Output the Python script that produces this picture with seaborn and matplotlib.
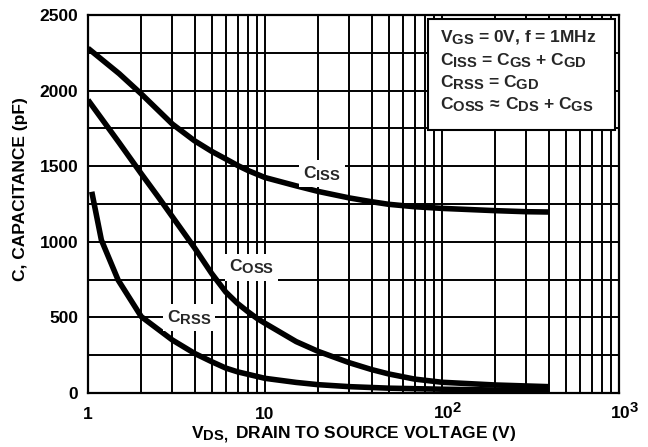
import numpy as np
import pandas as pd
import matplotlib
matplotlib.use("Agg")
import matplotlib.pyplot as plt
import matplotlib._mathtext as _mt
import matplotlib.transforms as mtransforms
import seaborn as sns
from matplotlib.patches import Rectangle
from matplotlib.ticker import FixedLocator, NullLocator

# Data
ciss_v = [1, 1.5, 2, 3, 4, 5, 6, 7, 8, 10, 15, 20, 30, 40, 50, 70, 100, 200, 300, 400]
ciss_c = [2280, 2112, 1978, 1778, 1668, 1598, 1548, 1505, 1472, 1425, 1370, 1333, 1290,
          1265, 1248, 1232, 1221, 1206, 1199, 1197]

coss_v = [1, 1.5, 2, 2.5, 3, 4, 5, 6, 7, 8, 9, 10, 15, 20, 30, 40, 50, 70, 100, 200, 400]
coss_c = [1938, 1655, 1450, 1295, 1165, 960, 790, 668, 592, 538, 494, 461, 340, 275,
          200, 155, 126, 92, 71, 53, 42]

crss_v = [1.05, 1.19, 1.48, 2, 3, 4, 5, 6, 7, 10, 15, 20, 30, 50, 100, 200, 400]
crss_c = [1331, 1012, 747, 505, 350, 262, 207, 165, 140, 97, 70, 55, 42, 32, 25, 20, 18]

y_ticks = [0, 500, 1000, 1500, 2000, 2500]
x_ticks = [1, 10, 100, 1000]
x_ticklabels = ["1", "10", r"$10^{2}$", r"$10^{3}$"]

_mt.SHRINK_FACTOR = 0.85

sns.set_theme(style="white")
plt.rcParams["font.family"] = ["Liberation Sans", "DejaVu Sans"]
plt.rcParams["font.weight"] = "bold"
plt.rcParams["mathtext.fontset"] = "custom"
plt.rcParams["mathtext.rm"] = "Liberation Sans:bold"
plt.rcParams["mathtext.it"] = "Liberation Sans:bold"
plt.rcParams["mathtext.bf"] = "Liberation Sans:bold"
plt.rcParams["mathtext.sf"] = "Liberation Sans:bold"

W, H = 648, 447
L, R, T, B = 88, 619, 15, 393
fig = plt.figure(figsize=(W/100, H/100), dpi=100)
ax = fig.add_axes([L/W, 1 - B/H, (R-L)/W, (B-T)/H])

for xs, ys in [(ciss_v, ciss_c), (coss_v, coss_c), (crss_v, crss_c)]:
    df = pd.DataFrame({"V": xs, "C": ys})
    sns.lineplot(data=df, x="V", y="C", ax=ax, color="black", linewidth=4.0,
                 solid_capstyle="butt", solid_joinstyle="round", zorder=3)

ax.set_xscale("log")
ax.set_xlim(1, 1000)
ax.set_ylim(0, 2500)

# grid
for d in [1, 10, 100]:
    for k in range(1, 10):
        if d * k > 1:
            ax.axvline(d*k, color="black", lw=1.4, zorder=1)
for yv in np.arange(250, 2500, 250):
    ax.axhline(yv, color="black", lw=1.4, zorder=1)

ax.xaxis.set_major_locator(FixedLocator(x_ticks))
ax.xaxis.set_minor_locator(NullLocator())
ax.set_xticklabels(x_ticklabels)
ax.set_yticks(y_ticks)
ax.tick_params(axis="both", length=0, labelsize=12.5, colors="black")
ax.tick_params(axis="x", pad=19)
ax.tick_params(axis="y", pad=7)
for i, lab in enumerate(ax.get_xticklabels()):
    lab.set_fontweight("bold")
    lab.set_va("baseline")
    if i >= 2:
        lab.set_transform(lab.get_transform() +
                          mtransforms.ScaledTranslation(4/72, 0, fig.dpi_scale_trans))
for lab in ax.get_yticklabels():
    lab.set_fontweight("bold")

for s in ax.spines.values():
    s.set_color("black")
    s.set_linewidth(1.6)
    s.set_zorder(6)

ax.set_xlabel(r"$V_{DS,}$ DRAIN TO SOURCE VOLTAGE (V)", fontsize=12.5, fontweight="bold",
              color="black", labelpad=2)
ax.set_ylabel("C, CAPACITANCE (pF)", fontsize=12.5, fontweight="bold", color="black")
ax.yaxis.set_label_coords((28 - L)/(R - L), (B - 189)/(B - T))

# curve labels
bbox = dict(facecolor="white", edgecolor="none", pad=3)
ax.text(21, 1450, r"$C_{ISS}$", fontsize=12.5, ha="center", va="center", bbox=bbox, zorder=4)
ax.text(8.4, 833, r"$C_{OSS}$", fontsize=12.5, ha="center", va="center", bbox=bbox, zorder=4)
ax.text(3.72, 500, r"$C_{RSS}$", fontsize=12.5, ha="center", va="center", bbox=bbox, zorder=4)

# condition box
bx0 = (428 - L)/(R - L)
bx1 = (615 - L)/(R - L)
by0 = (B - 130)/(B - T)
by1 = (B - 19)/(B - T)
ax.add_patch(Rectangle((bx0, by0), bx1 - bx0, by1 - by0, transform=ax.transAxes,
                       facecolor="white", edgecolor="black", lw=1.5, zorder=5))
lines = [r"$V_{GS}$ = 0V, f = 1MHz",
         r"$C_{ISS}$ = $C_{GS}$ + $C_{GD}$",
         r"$C_{RSS}$ = $C_{GD}$",
         r"$C_{OSS}\,\approx\,C_{DS}$ + $C_{GS}$"]
baselines = [42, 65, 87, 109]
for t, yb in zip(lines, baselines):
    ax.text((440 - L)/(R - L), (B - yb)/(B - T), t, transform=ax.transAxes, fontsize=12.5,
            ha="left", va="baseline", zorder=6)

fig.savefig("out.png", dpi=100, facecolor="white")
